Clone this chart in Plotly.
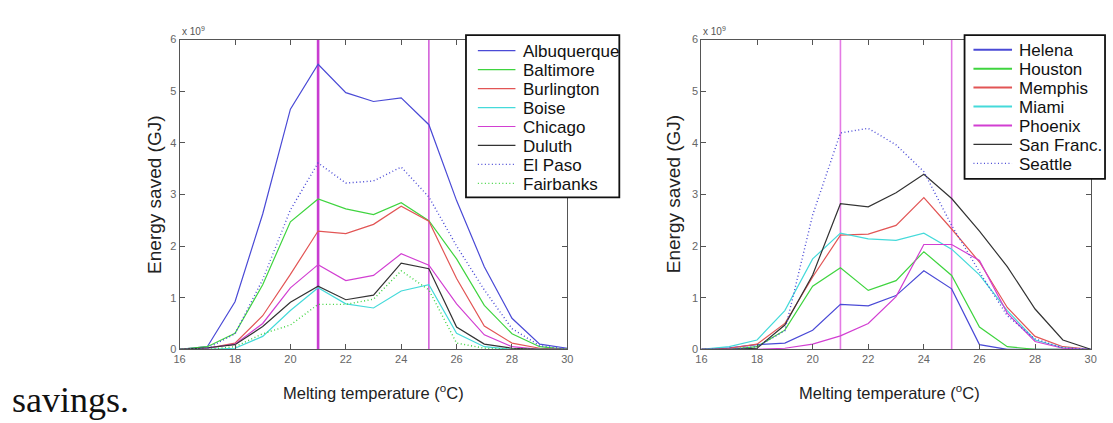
import plotly.graph_objects as go

temps = list(range(16, 31))

# Left panel (units of 1e9 GJ)
albuquerque = [0.0, 0.05, 0.92, 2.62, 4.65, 5.52, 4.97, 4.80, 4.87, 4.35, 2.88, 1.60, 0.60, 0.10, 0.02]
baltimore   = [0.0, 0.05, 0.31, 1.25, 2.47, 2.91, 2.72, 2.61, 2.84, 2.49, 1.75, 0.85, 0.30, 0.05, 0.0]
burlington  = [0.0, 0.02, 0.12, 0.65, 1.45, 2.29, 2.24, 2.42, 2.77, 2.48, 1.37, 0.45, 0.12, 0.02, 0.0]
boise       = [0.0, 0.0, 0.02, 0.25, 0.75, 1.19, 0.88, 0.80, 1.13, 1.25, 0.31, 0.05, 0.0, 0.0, 0.0]
chicago     = [0.0, 0.02, 0.10, 0.50, 1.19, 1.64, 1.33, 1.43, 1.85, 1.63, 0.88, 0.28, 0.05, 0.0, 0.0]
duluth      = [0.0, 0.03, 0.09, 0.44, 0.91, 1.22, 0.96, 1.05, 1.67, 1.56, 0.43, 0.10, 0.02, 0.0, 0.0]
el_paso     = [0.0, 0.02, 0.30, 1.35, 2.70, 3.61, 3.22, 3.26, 3.53, 2.95, 2.00, 1.15, 0.40, 0.07, 0.0]
fairbanks   = [0.0, 0.0, 0.05, 0.30, 0.47, 0.87, 0.87, 0.97, 1.52, 1.15, 0.12, 0.02, 0.0, 0.0, 0.0]

# Right panel (units of 1e9 GJ)
helena      = [0.0, 0.03, 0.09, 0.12, 0.37, 0.87, 0.84, 1.04, 1.52, 1.17, 0.09, 0.0, 0.0, 0.0, 0.0]
houston     = [0.0, 0.0, 0.05, 0.37, 1.22, 1.58, 1.14, 1.33, 1.89, 1.43, 0.43, 0.05, 0.0, 0.0, 0.0]
memphis     = [0.0, 0.02, 0.10, 0.50, 1.40, 2.21, 2.23, 2.40, 2.94, 2.33, 1.69, 0.81, 0.25, 0.05, 0.0]
miami       = [0.0, 0.05, 0.18, 0.75, 1.75, 2.25, 2.14, 2.11, 2.25, 1.94, 1.44, 0.75, 0.18, 0.03, 0.0]
phoenix     = [0.0, 0.0, 0.0, 0.02, 0.10, 0.26, 0.50, 1.02, 2.03, 2.03, 1.72, 0.70, 0.15, 0.02, 0.0]
san_franc   = [0.0, 0.0, 0.02, 0.47, 1.44, 2.82, 2.76, 3.03, 3.39, 2.92, 2.29, 1.60, 0.78, 0.18, 0.0]
seattle     = [0.0, 0.0, 0.05, 0.36, 2.60, 4.19, 4.28, 3.96, 3.44, 2.40, 1.50, 0.65, 0.20, 0.03, 0.0]

melt_bounds = [21, 25]
x_ticks = [16, 18, 20, 22, 24, 26, 28, 30]
y_ticks = [0, 1, 2, 3, 4, 5, 6]

BLUE = "#4a4ad6"
GREEN = "#3fd43f"
RED = "#e25555"
CYAN = "#45dada"
MAG = "#d23fd2"
BLACK = "#333333"
DOT = "1px,2.5px"

left_series = [
    ("Albuquerque", albuquerque, BLUE, "solid"),
    ("Baltimore", baltimore, GREEN, "solid"),
    ("Burlington", burlington, RED, "solid"),
    ("Boise", boise, CYAN, "solid"),
    ("Chicago", chicago, MAG, "solid"),
    ("Duluth", duluth, BLACK, "solid"),
    ("El Paso", el_paso, BLUE, DOT),
    ("Fairbanks", fairbanks, GREEN, DOT),
]
right_series = [
    ("Helena", helena, BLUE, "solid"),
    ("Houston", houston, GREEN, "solid"),
    ("Memphis", memphis, RED, "solid"),
    ("Miami", miami, CYAN, "solid"),
    ("Phoenix", phoenix, MAG, "solid"),
    ("San Franc.", san_franc, BLACK, "solid"),
    ("Seattle", seattle, BLUE, DOT),
]

W, H = 1113, 423
def px_x(p):
    return p / W
def px_y(p):
    return 1 - p / H

fig = go.Figure()

for xa, ya, widths, col in [("x", "y", [2.6, 1.3], "#c83cd0"), ("x2", "y2", [1.6, 1.6], "#e47ae4")]:
    for b, w in zip(melt_bounds, widths):
        fig.add_trace(go.Scatter(x=[b, b], y=[y_ticks[0], y_ticks[-1]], mode="lines",
                                 line=dict(color=col, width=w), xaxis=xa, yaxis=ya,
                                 showlegend=False, hoverinfo="skip"))

for series, xa, ya in [(left_series, "x", "y"), (right_series, "x2", "y2")]:
    for name, vals, col, dash in series:
        fig.add_trace(go.Scatter(x=temps, y=vals, name=name, mode="lines",
                                 line=dict(color=col, width=1.2 if dash == "solid" else 1.4, dash=dash),
                                 xaxis=xa, yaxis=ya, showlegend=False))

axis_common = dict(showgrid=False, zeroline=False, ticks="inside", ticklen=5,
                   tickcolor="#555", linecolor="#555", linewidth=1, mirror="allticks",
                   showline=True, tickfont=dict(family="Liberation Sans", size=11, color="#666"))

fig.update_layout(
    width=W, height=H,
    margin=dict(l=0, r=0, t=0, b=0),
    paper_bgcolor="white", plot_bgcolor="white",
    showlegend=False,
    xaxis=dict(domain=[px_x(175.5), px_x(567.5)], range=[16, 30], tickvals=x_ticks,
               anchor="y", **axis_common),
    yaxis=dict(domain=[px_y(353.3), px_y(34.5)], range=[0, 6], tickvals=y_ticks,
               anchor="x", **axis_common),
    xaxis2=dict(domain=[px_x(703), px_x(1096.5)], range=[16, 30], tickvals=x_ticks,
                anchor="y2", **axis_common),
    yaxis2=dict(domain=[px_y(353.3), px_y(34.5)], range=[0, 6], tickvals=y_ticks,
                anchor="x2", **axis_common),
)

shapes = []
ann = []
legend_specs = [
    (left_series, (465, 30, 620, 197), 46, 477, 515, 521, 1.2),
    (right_series, (969, 30, 1111, 178), 45, 978, 1017, 1022, 2.0),
]
for series, (bx0, by0, bx1, by1), row0, sx0, sx1, tx, sw in legend_specs:
    shapes.append(dict(type="rect", xref="paper", yref="paper",
                       x0=px_x(bx0), x1=px_x(bx1), y0=px_y(by1), y1=px_y(by0),
                       line=dict(color="#111", width=1.8), fillcolor="white", layer="above"))
    for i, (name, vals, col, dash) in enumerate(series):
        ry = row0 + i * 19.5
        w = sw if (dash == "solid" and col != BLACK) else 1.2
        shapes.append(dict(type="line", xref="paper", yref="paper",
                           x0=px_x(sx0), x1=px_x(sx1), y0=px_y(ry), y1=px_y(ry),
                           line=dict(color=col, width=w, dash=dash), layer="above"))
        ann.append(dict(text=name, x=px_x(tx), y=px_y(ry + 1), xref="paper", yref="paper",
                        showarrow=False, xanchor="left", yanchor="middle",
                        font=dict(family="Liberation Sans", size=17, color="#111")))

for xc, ylab_x in [(371, 150), (893, 675)]:
    ann.append(dict(text="Melting temperature (<sup>o</sup>C)", x=px_x(xc), y=px_y(397),
                    xref="paper", yref="paper", showarrow=False, xanchor="center", yanchor="middle",
                    font=dict(family="Liberation Sans", size=16.5, color="#222")))
    ann.append(dict(text="Energy saved (GJ)", x=px_x(ylab_x), y=px_y(194),
                    xref="paper", yref="paper", showarrow=False, textangle=-90,
                    xanchor="center", yanchor="middle",
                    font=dict(family="Liberation Sans", size=19, color="#222")))
for xd, yd in [("x domain", "y domain"), ("x2 domain", "y2 domain")]:
    ann.append(dict(text="x 10<sup>9</sup>", x=0, y=1, xref=xd, yref=yd, showarrow=False,
                    xanchor="left", yanchor="bottom", yshift=1,
                    font=dict(family="Liberation Sans", size=10, color="#555")))
ann.append(dict(text="savings.", x=px_x(4), y=px_y(406), xref="paper", yref="paper",
                showarrow=False, xanchor="left", yanchor="middle",
                font=dict(family="Liberation Serif", size=36, color="#111")))
fig.update_layout(annotations=ann, shapes=shapes)

fig.write_html("out.html", config={"displayModeBar": False},
               post_script=("document.documentElement.style.margin='0';"
                            "document.documentElement.style.overflow='hidden';"
                            "document.body.style.margin='0';document.body.style.padding='0';"
                            "document.body.style.overflow='hidden';"))
